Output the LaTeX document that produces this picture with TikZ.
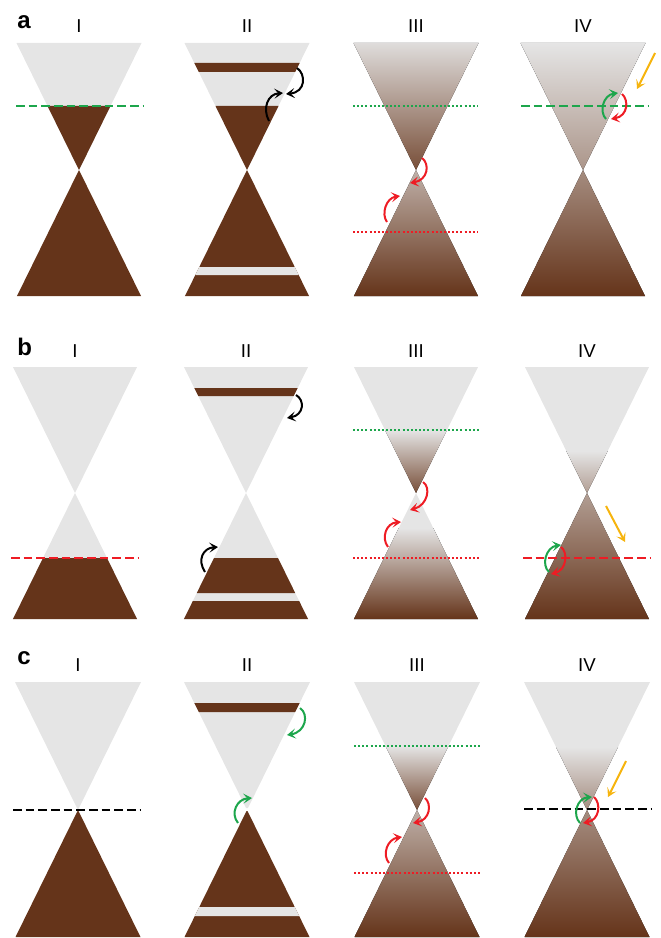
\documentclass[tikz,border=0pt]{standalone}
\usepackage{fontspec}
\setmainfont{Liberation Sans}
\usetikzlibrary{arrows.meta}
\definecolor{bandbrown}{HTML}{65341A}
\definecolor{emptygray}{HTML}{E5E5E5}
\definecolor{fermigreen}{HTML}{1DA64C}
\definecolor{fermired}{HTML}{EE1C24}
\definecolor{lightamber}{HTML}{F6B40E}
\tikzset{
  >={Stealth[length=6.5pt,width=7.5pt,inset=3pt]},
  panellabel/.style={font=\fontsize{18}{20}\selectfont\bfseries,anchor=base west,inner sep=0pt},
  steplabel/.style={font=\fontsize{14}{16}\selectfont,anchor=base,inner sep=0pt},
  fullband/.style={fill=bandbrown},
  emptyband/.style={fill=emptygray},
  dashline/.style={line width=2pt,dash pattern=on 6.5pt off 3pt},
  dotline/.style={line width=1.6pt,dash pattern=on 1.5pt off 1.6pt},
  hop/.style={->,line width=1.5pt},
  kick/.style={->,line width=1.5pt,draw=lightamber},
}
% trapezoid slice of a cone between local heights #2 and #3 (apex at 0)
\newcommand\slab[3][]{\fill[#1] ({-62.5*abs(#2)/127},#2) -- ({62.5*abs(#2)/127},#2) -- ({62.5*abs(#3)/127},#3) -- ({-62.5*abs(#3)/127},#3) -- cycle;}

\begin{document}
\begin{tikzpicture}[x=0.75pt,y=-0.75pt]
  \useasboundingbox (0,0) rectangle (660,938);

  % row labels and column labels
  \node[panellabel] (rowa) at (17,29) {a};
  \node[panellabel] (rowb) at (17,355) {b};
  \node[panellabel] (rowc) at (17,664) {c};
  \foreach \num/\cx in {I/79,II/247,III/416,IV/583}
    \node[steplabel] (a\num) at (\cx,33) {\num};
  \foreach \num/\cx in {I/75,II/246,III/416,IV/587}
    \node[steplabel] (b\num) at (\cx,357) {\num};
  \foreach \num/\cx in {I/78,II/247,III/417,IV/587}
    \node[steplabel] (c\num) at (\cx,671) {\num};

  %% row a
  \begin{scope}[shift={(79,170)}]
    \slab[emptyband]{-127}{0} \slab[fullband]{-64}{0} \slab[fullband]{0}{126}
  \end{scope}
  \begin{scope}[shift={(247,170)}]
    \slab[emptyband]{-127}{0} \slab[fullband]{-107}{-98} \slab[fullband]{-64}{0}
    \slab[fullband]{0}{126} \slab[emptyband]{97}{105}
  \end{scope}
  \begin{scope}[shift={(416,170)}]
    \slab[top color=emptygray!95!bandbrown,bottom color=bandbrown!85!emptygray]{-127}{0}
    \slab[top color=bandbrown!30!emptygray,bottom color=bandbrown]{0}{126}
  \end{scope}
  \begin{scope}[shift={(583,170)}]
    \slab[top color=emptygray,bottom color=bandbrown!45!emptygray]{-127}{0}
    \slab[top color=bandbrown!50!emptygray,bottom color=bandbrown]{0}{126}
  \end{scope}
  \draw[dashline,fermigreen] (16,106) -- (143,106);
  \draw[hop] (297,68) .. controls (306,74) and (306,92) .. (286,94);
  \draw[hop] (269,121) .. controls (262,108) and (268,94) .. (283,93);
  \draw[dotline,fermigreen] (353,106) -- (478,106);
  \draw[dotline,fermired] (353,232) -- (478,232);
  \draw[hop,fermired] (422,158) .. controls (430,164) and (428,180) .. (410,183);
  \draw[hop,fermired] (387,222) .. controls (381,214) and (386,198) .. (400,196);
  \draw[dashline,fermigreen] (521,106) -- (648,106);
  \draw[hop,fermigreen] (606,119) .. controls (599,112) and (603,95) .. (618,93);
  \draw[hop,fermired] (622,94) .. controls (629,100) and (628,116) .. (611,119);
  \draw[kick] (655,53) -- (637,89);

  %% row b
  \begin{scope}[shift={(75,493)}]
    \slab[emptyband]{-126}{0} \slab[emptyband]{0}{126} \slab[fullband]{65}{126}
  \end{scope}
  \begin{scope}[shift={(246,493)}]
    \slab[emptyband]{-126}{0} \slab[fullband]{-105}{-97}
    \slab[emptyband]{0}{126} \slab[fullband]{65}{100} \slab[fullband]{108}{126}
  \end{scope}
  \begin{scope}[shift={(416,493)}]
    \slab[emptyband]{-126}{-63}
    \slab[top color=emptygray,bottom color=bandbrown!85!emptygray]{-63}{0}
    \slab[emptyband]{0}{35}
    \slab[top color=emptygray,bottom color=bandbrown]{35}{126}
  \end{scope}
  \begin{scope}[shift={(587,493)}]
    \slab[emptyband]{-126}{-42}
    \slab[top color=emptygray,bottom color=bandbrown!40!emptygray]{-42}{0}
    \slab[top color=bandbrown!40!emptygray,bottom color=bandbrown]{0}{126}
  \end{scope}
  \draw[dashline,fermired] (11,558) -- (139,558);
  \draw[hop] (296,395) .. controls (305,400) and (304,415) .. (287,418);
  \draw[hop] (205,572) .. controls (197,560) and (203,548) .. (218,547);
  \draw[dotline,fermigreen] (353,430) -- (480,430);
  \draw[dotline,fermired] (353,558) -- (480,558);
  \draw[hop,fermired] (423,482) .. controls (431,487) and (428,505) .. (410,510);
  \draw[hop,fermired] (388,547) .. controls (381,538) and (386,523) .. (401,522);
  \draw[dashline,fermired] (523,558) -- (651,558);
  \draw[hop,fermigreen] (549,572) .. controls (541,565) and (546,547) .. (561,545);
  \draw[hop,fermired] (561,547) .. controls (568,552) and (567,570) .. (551,574);
  \draw[kick] (606,506) -- (625,542);

  %% row c
  \begin{scope}[shift={(78,810)}]
    \slab[emptyband]{-128}{0} \slab[fullband]{0}{127}
  \end{scope}
  \begin{scope}[shift={(247,810)}]
    \slab[emptyband]{-128}{-2} \slab[fullband]{-107}{-98}
    \slab[fullband]{1}{127} \slab[emptyband]{97}{106}
  \end{scope}
  \begin{scope}[shift={(417,810)}]
    \slab[emptyband]{-128}{-64}
    \slab[top color=emptygray,bottom color=bandbrown!85!emptygray]{-64}{0}
    \slab[top color=bandbrown!30!emptygray,bottom color=bandbrown]{0}{127}
  \end{scope}
  \begin{scope}[shift={(587,810)}]
    \slab[emptyband]{-128}{-63}
    \slab[top color=emptygray,bottom color=bandbrown!50!emptygray]{-63}{0}
    \slab[top color=bandbrown!50!emptygray,bottom color=bandbrown]{0}{127}
  \end{scope}
  \draw[dashline] (13,810) -- (141,810);
  \draw[hop,fermigreen] (300,708) .. controls (309,714) and (306,732) .. (287,735);
  \draw[hop,fermigreen] (238,823) .. controls (230,813) and (237,799) .. (252,798);
  \draw[dotline,fermigreen] (354,746) -- (480,746);
  \draw[dotline,fermired] (354,873) -- (480,873);
  \draw[hop,fermired] (425,798) .. controls (432,804) and (430,820) .. (413,823);
  \draw[hop,fermired] (389,863) .. controls (382,855) and (387,839) .. (402,837);
  \draw[dashline] (524,809) -- (652,809);
  \draw[hop,fermigreen] (580,823) .. controls (572,815) and (577,798) .. (592,797);
  \draw[hop,fermired] (594,797) .. controls (601,803) and (600,820) .. (583,823);
  \draw[kick] (626,761) -- (608,797);
\end{tikzpicture}
\end{document}
